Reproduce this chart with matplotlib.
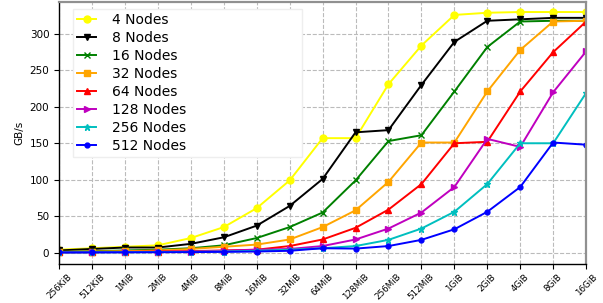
import numpy as np
import matplotlib.pyplot as plt

sizes = ["256KiB", "512KiB", "1MiB", "2MiB", "4MiB", "8MiB", "16MiB", "32MiB",
         "64MiB", "128MiB", "256MiB", "512MiB", "1GiB", "2GiB", "4GiB", "8GiB", "16GiB"]

nodes_4 = [4, 6, 8, 10, 20, 35, 61, 99, 157, 157, 231, 284, 326, 329, 330, 330, 330]
nodes_8 = [3, 5, 7, 7, 12, 21, 37, 64, 101, 165, 168, 230, 289, 318, 320, 322, 322]
nodes_16 = [1, 2, 3, 4, 6, 10, 20, 35, 55, 99, 153, 161, 221, 282, 317, 318, 318]
nodes_32 = [1, 1.5, 2, 3, 5, 8, 11, 18, 35, 58, 97, 151, 151, 221, 278, 317, 318]
nodes_64 = [0.5, 0.7, 1, 1.5, 2, 3, 4, 9, 18, 34, 59, 94, 150, 152, 221, 275, 317]
nodes_128 = [0.3, 0.5, 0.7, 1, 1.5, 2.5, 4, 5, 9, 18, 33, 55, 90, 156, 145, 220, 276]
nodes_256 = [0.3, 0.4, 0.5, 0.7, 1, 1.5, 2.5, 4, 6, 9, 17.5, 33, 56, 94, 150, 150, 219]
nodes_512 = [0.2, 0.3, 0.4, 0.5, 0.7, 1, 1.5, 2.5, 6, 5.5, 9, 17.5, 32, 56, 90, 151, 148]

series = [
    ("4 Nodes", nodes_4, "#ffff00", "o"),
    ("8 Nodes", nodes_8, "black", "v"),
    ("16 Nodes", nodes_16, "#008000", "x"),
    ("32 Nodes", nodes_32, "#ffa500", "s"),
    ("64 Nodes", nodes_64, "#ff0000", "^"),
    ("128 Nodes", nodes_128, "#bf00bf", ">"),
    ("256 Nodes", nodes_256, "#00bfbf", "*"),
    ("512 Nodes", nodes_512, "#0000ff", "."),
]

fig = plt.figure(figsize=(6.03, 3.03), dpi=100)
ax = fig.add_axes([0.098, 0.129, 0.874, 0.865])

x = np.arange(len(sizes))
for label, vals, color, marker in series:
    ms = 7 if marker == "." else 5
    ax.plot(x, vals, color=color, marker=marker, markersize=ms, linewidth=1.4,
            label=label)

ax.set_xlim(0, len(sizes) - 1)
ax.set_ylim(-15.5, 344)
ax.set_xticks(x)
ax.set_xticklabels(sizes, rotation=45, fontsize=6.3)
ax.tick_params(axis="x", pad=2.5, length=3.5)
ax.set_yticks(np.arange(0, 301, 50))
ax.tick_params(axis="y", labelsize=7.5, length=3.5)
ax.set_ylabel("GB/s", fontsize=7.5)

ax.grid(True, linestyle="--", color="#bbbbbb", linewidth=0.8)
ax.set_axisbelow(True)

for side in ["top", "right"]:
    ax.spines[side].set_color("#909090")
    ax.spines[side].set_linewidth(1.6)
for side in ["left", "bottom"]:
    ax.spines[side].set_color("black")
    ax.spines[side].set_linewidth(1.0)

# legend box stretched to ~x=300 px like in the original (hides the grid there)
leg = ax.legend(loc="upper left", bbox_to_anchor=(0.027, 0.0, 0.434, 0.974),
                mode="expand", borderaxespad=0, fontsize=10, labelspacing=0.29,
                handlelength=1.3, handletextpad=1.2, borderpad=0.3,
                framealpha=1, fancybox=False)
leg.get_frame().set_edgecolor("#eeeeee")

fig.savefig("out.png", dpi=100)
